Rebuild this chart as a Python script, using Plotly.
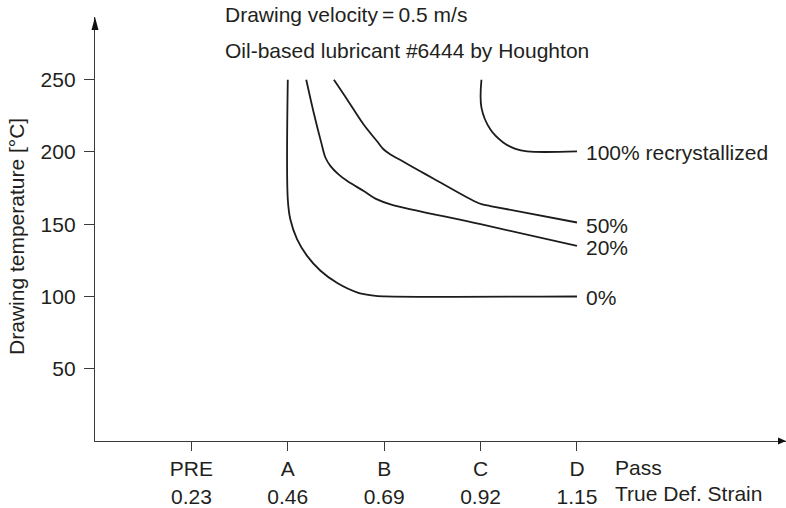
import plotly.graph_objects as go

# ---------------- data ----------------
strain_ticks = [0.23, 0.46, 0.69, 0.92, 1.15]
pass_labels = ["PRE", "A", "B", "C", "D"]
strain_labels = ["0.23", "0.46", "0.69", "0.92", "1.15"]
temp_ticks = [50, 100, 150, 200, 250]

# 0 % recrystallized
x_0 = [0.46, 0.46, 0.466, 0.482, 0.506, 0.538, 0.578, 0.625, 0.665, 0.69, 1.15]
y_0 = [250, 167.2, 153.4, 139.7, 128.1, 117.8, 109.3, 102.9, 100.6, 100.1, 100]

# 20 % recrystallized
x_20 = [0.504, 0.522, 0.540, 0.550, 0.562, 0.581, 0.602, 0.641, 0.673, 0.705, 0.92, 1.15]
y_20 = [250, 227.0, 206.3, 196.0, 190.2, 184.5, 179.9, 173.0, 167.2, 163.8, 150.0, 135.0]

# 50 % recrystallized
x_50 = [0.570, 0.602, 0.641, 0.673, 0.689, 0.705, 0.733, 0.776, 0.808, 0.904, 0.924, 0.943, 1.15]
y_50 = [250, 236.2, 219.0, 207.4, 201.7, 198.3, 193.7, 186.7, 181.5, 166.1, 163.8, 162.6, 151.2]

# 100 % recrystallized
x_100 = [0.922, 0.922, 0.9435, 0.974, 1.003, 1.031, 1.15]
y_100 = [250, 230.7, 215.5, 206.6, 202.2, 200.4, 200.4]

series_names = ["0%", "20%", "50%", "100% recrystallized"]
series_x = [x_0, x_20, x_50, x_100]
series_y = [y_0, y_20, y_50, y_100]

title_lines = ["Drawing velocity\u2009=\u20090.5 m/s",
               "Oil-based lubricant #6444 by Houghton"]
y_title = "Drawing temperature [°C]"
x_row_titles = ["Pass", "True Def. Strain"]

# ---------------- layout constants ----------------
W, H = 786, 508
ML, MR, MT, MB = 95, 0, 17, 65
PW, PH = W - ML - MR, H - MT - MB
X_RANGE = [0, 1.6487]
Y_RANGE = [0, 293.4]
FONT = "Liberation Sans, Arial, Helvetica, sans-serif"
FS = 21
INK = "#231f20"
AX = "#3a3a3a"

fig = go.Figure()
for name, xs, ys in zip(series_names, series_x, series_y):
    fig.add_trace(go.Scatter(x=xs, y=ys, mode="lines", name=name,
                             line=dict(color="#1c1c1c", width=1.8, shape="spline", smoothing=1.0),
                             hoverinfo="skip", showlegend=False))

ticktext = [f"{p}<br>{s}" for p, s in zip(pass_labels, strain_labels)]

fig.update_layout(
    width=W, height=H,
    margin=dict(l=ML, r=MR, t=MT, b=MB, pad=0),
    paper_bgcolor="white", plot_bgcolor="white",
    font=dict(family=FONT, size=FS, color=INK),
    xaxis=dict(range=X_RANGE, tickvals=strain_ticks, ticktext=ticktext,
               ticks="outside", ticklen=9, tickwidth=1.3, tickcolor=AX,
               showline=True, linecolor=AX, linewidth=1.3,
               showgrid=False, zeroline=False,
               tickfont=dict(family=FONT, size=FS, color=INK)),
    yaxis=dict(range=Y_RANGE, tickvals=temp_ticks,
               ticks="outside", ticklen=10, tickwidth=1.3, tickcolor=AX,
               showline=True, linecolor=AX, linewidth=1.3,
               showgrid=False, zeroline=False, ticklabelstandoff=4,
               tickfont=dict(family=FONT, size=FS, color=INK)),
)

# axis arrows (paper coordinates derived from pixel sizes)
def px_x(p):
    return p / PW

def px_y(p):
    return p / PH

ah_len, ah_half = 13, 3.5
fig.add_shape(type="path", xref="paper", yref="paper",
              path=(f"M {-px_x(ah_half)} {1 - px_y(ah_len)} L {px_x(ah_half)} {1 - px_y(ah_len)} "
                    f"L 0 1 Z"),
              fillcolor="#111", line=dict(width=0))
fig.add_shape(type="path", xref="paper", yref="paper",
              path=(f"M {1 - px_x(8)} {-px_y(ah_half)} L {1 - px_x(8)} {px_y(ah_half)} "
                    f"L 1 0 Z"),
              fillcolor="#111", line=dict(width=0))

# curve end labels
label_shift = [-1, -2, -3, -1]
for name, xs, ys, sh in zip(series_names, series_x, series_y, label_shift):
    fig.add_annotation(x=xs[-1], y=ys[-1], xref="x", yref="y", text=name,
                       showarrow=False, xanchor="left", yanchor="middle",
                       xshift=7, yshift=sh, font=dict(family=FONT, size=FS, color=INK))

# top texts
for i, t in enumerate(title_lines):
    fig.add_annotation(x=(222.7 - ML) / PW, y=1 - (([14, 51][i]) - MT) / PH,
                       xref="paper", yref="paper", text=t, showarrow=False,
                       xanchor="left", yanchor="middle",
                       font=dict(family=FONT, size=FS, color=INK))

# axis title
fig.add_annotation(x=(17 - ML) / PW, y=141.2, xref="paper", yref="y",
                   text=y_title, textangle=-90, showarrow=False,
                   xanchor="center", yanchor="middle",
                   font=dict(family=FONT, size=FS, color=INK))

# row titles to the right of the tick labels
for i, t in enumerate(x_row_titles):
    fig.add_annotation(x=(612.5 - ML) / PW, y=0, xref="paper", yref="paper",
                       text=t, showarrow=False, xanchor="left", yanchor="middle",
                       yshift=-([469.3, 495][i] - (H - MB)),
                       font=dict(family=FONT, size=FS, color=INK))

fig.write_html("out.html")
